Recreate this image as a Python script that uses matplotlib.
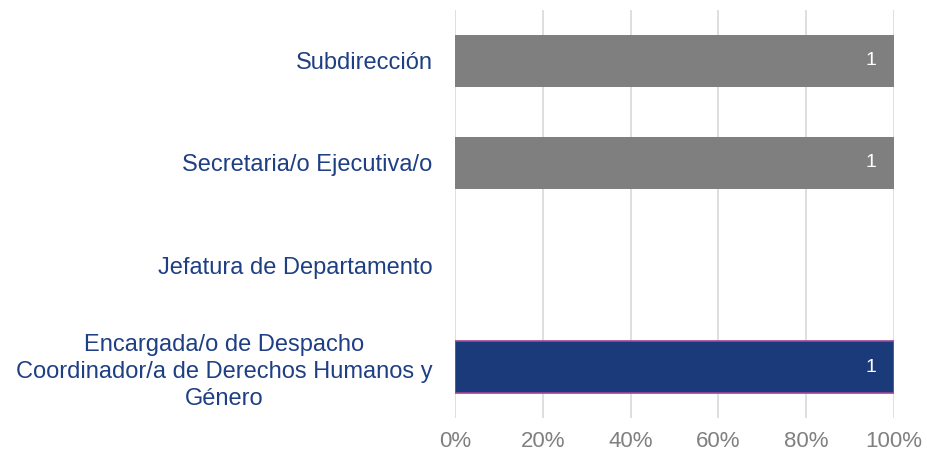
import numpy as np
import matplotlib.pyplot as plt
from matplotlib.ticker import PercentFormatter

plt.rcParams['font.family'] = ['Liberation Sans', 'DejaVu Sans']

categorias = ['Encargada/o de Despacho\nCoordinador/a de Derechos Humanos y\nGénero',
              'Jefatura de Departamento',
              'Secretaria/o Ejecutiva/o',
              'Subdirección']
mujeres = [1, 0, 0, 0]
hombres = [0, 0, 1, 1]

mujeres = np.array(mujeres, dtype=float)
hombres = np.array(hombres, dtype=float)
total = mujeres + hombres
safe = np.where(total > 0, total, 1)
pm = mujeres / safe
ph = hombres / safe

fig = plt.figure(figsize=(9.27, 4.58), dpi=100)
ax = fig.add_axes([0.4908, 0.0873, 0.4736, 0.8909])
y = np.arange(len(categorias))

b1 = ax.barh(y, pm, height=0.51, color='#1B3A7A', zorder=3)
b2 = ax.barh(y, ph, left=pm, height=0.51, color='#7F7F7F', zorder=3)
# borde morado solo en las barras azules con valor
for rect, v in zip(b1, mujeres):
    if v > 0:
        rect.set_edgecolor('#A0449A')
        rect.set_linewidth(1.2)
    else:
        rect.set_linewidth(0)
for rect in b2:
    rect.set_linewidth(0)

for bars, vals in ((b1, mujeres), (b2, hombres)):
    for rect, v in zip(bars, vals):
        if v > 0:
            ax.text(rect.get_x() + rect.get_width() - 0.052, rect.get_y() + rect.get_height() / 2,
                    '%d' % v, color='white', fontsize=14, ha='center', va='center', zorder=4)

ax.set_xlim(0, 1)
ax.set_ylim(-0.5, 3.5)
ax.set_xticks(np.linspace(0, 1, 6))
ax.xaxis.set_major_formatter(PercentFormatter(1.0, decimals=0))
ax.set_yticks(y)
ax.set_yticklabels(categorias, multialignment='center', linespacing=1.3)
ax.tick_params(axis='y', length=0, pad=16, labelsize=17, labelcolor='#1F3F84')
ax.tick_params(axis='x', length=0, pad=9, labelsize=16, labelcolor='#808080')
ax.grid(axis='x', color='#D9D9D9', linewidth=1.2, zorder=0)
for s in ax.spines.values():
    s.set_visible(False)

fig.savefig('out.png', dpi=100)
